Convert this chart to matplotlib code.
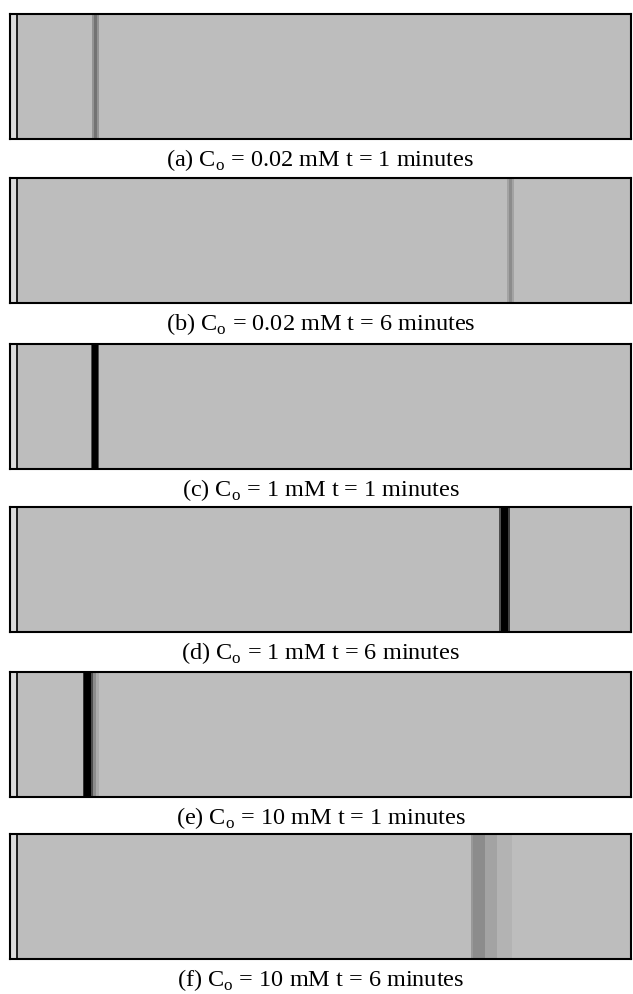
import matplotlib
matplotlib.use("Agg")
import matplotlib.pyplot as plt

plt.rcParams["font.family"] = "Liberation Serif"
plt.rcParams["mathtext.fontset"] = "custom"
plt.rcParams["mathtext.rm"] = "Liberation Serif"

# captions of the six gel strips
labels = [
    r"(a) C$_\mathrm{o}$ = 0.02 mM t = 1 minutes",
    r"(b) C$_\mathrm{o}$ = 0.02 mM t = 6 minutes",
    r"(c) C$_\mathrm{o}$ = 1 mM t = 1 minutes",
    r"(d) C$_\mathrm{o}$ = 1 mM t = 6 minutes",
    r"(e) C$_\mathrm{o}$ = 10 mM t = 1 minutes",
    r"(f) C$_\mathrm{o}$ = 10 mM t = 6 minutes",
]

# band profile: segment edges (distance, % of strip) and darkness of each segment
band_edges = [
    [13.2, 13.5, 14.0, 14.3],
    [80.0, 80.3, 80.8, 81.1],
    [13.0, 13.2, 14.1, 14.3],
    [78.8, 79.1, 80.2, 80.5],
    [11.7, 11.9, 13.0, 13.4, 13.8, 14.3],
    [74.2, 74.6, 76.5, 78.5, 80.8],
]
band_dark = [
    [0.42, 0.55, 0.42],
    [0.36, 0.45, 0.36],
    [0.7, 1.0, 0.7],
    [0.7, 1.0, 0.75],
    [0.8, 1.0, 0.7, 0.45, 0.33],
    [0.4, 0.45, 0.36, 0.3],
]
background_dark = 0.26
well_end = 1.1

fig = plt.figure(figsize=(6.33, 9.94), dpi=100)
W, H = 633, 994
tops = [14, 178, 344, 507, 672, 834]

for i in range(6):
    ax = fig.add_axes([10 / W, 1 - (tops[i] + 125) / H, 621 / W, 125 / H])
    ax.set_xlim(0, 100)
    ax.set_ylim(0, 1)
    ax.set_facecolor(str(1 - background_dark))
    ax.axvspan(0, well_end, color="#dcdcdc", lw=0)
    ax.axvline(well_end, color="black", lw=1.2)
    edges = band_edges[i]
    for j, d in enumerate(band_dark[i]):
        ax.axvspan(edges[j], edges[j + 1], color=str(1 - d), lw=0)
    ax.set_xticks([])
    ax.set_yticks([])
    for s in ax.spines.values():
        s.set_linewidth(1.5)
    ax.text(0.5, -0.165, labels[i], transform=ax.transAxes, ha="center",
            va="center", fontsize=17.5)

plt.savefig("out.png", dpi=100)
